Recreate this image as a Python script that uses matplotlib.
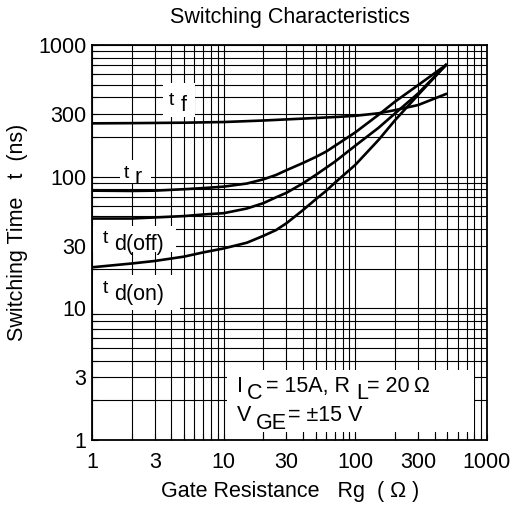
import numpy as np
import matplotlib
matplotlib.use('Agg')
from matplotlib import pyplot as plt
from matplotlib.patches import Rectangle

plt.rcParams['font.family'] = ['Liberation Sans', 'DejaVu Sans']

# gate resistance (ohm) and switching times (ns)
rg_tf = [1, 2, 5, 10, 20, 50, 76, 100, 150, 200, 300, 487]
t_f = [254, 255, 257, 260, 267, 279, 285, 290, 303, 320, 350, 424]

rg_tr = [1, 2, 3, 5, 7, 10, 15, 20, 25, 30, 40, 50, 60, 76, 100, 150, 200, 300, 487]
t_r = [78.3, 77.9, 78.3, 80.3, 81.9, 84, 88.7, 95.4, 103, 112, 127, 141, 155, 181,
       217, 295, 371, 496, 704]

rg_doff = [1, 2, 3, 5, 7, 10, 15, 20, 25, 30, 40, 50, 70, 100, 150, 200, 300, 487]
t_doff = [48.1, 48.1, 49, 50.2, 51.6, 52.8, 57.3, 62.9, 69.7, 75.4, 89, 103, 130,
          172, 235, 302, 429, 704]

rg_don = [1, 2, 3, 5, 7, 10, 15, 20, 25, 30, 40, 50, 60, 70, 100, 150, 200, 300, 487]
t_don = [20.5, 21.9, 22.9, 24.7, 26.6, 28.5, 31.5, 35.5, 39.3, 44.3, 55.7, 67.3, 78,
         90, 123, 190, 268, 418, 704]

ticks = [1, 3, 10, 30, 100, 300, 1000]
tick_labels = ['1', '3', '10', '30', '100', '300', '1000']

W, H = 516, 507
fig = plt.figure(figsize=(W / 100, H / 100), dpi=100)
ax = fig.add_axes([92 / W, 1 - 440 / H, 395 / W, 395 / H])
ax.set_xscale('log')
ax.set_yscale('log')
ax.set_xlim(1, 1000)
ax.set_ylim(1, 1000)
ax.set_axisbelow(True)

ax.grid(True, which='both', color='black', linewidth=0.8)
ax.set_xticks(ticks)
ax.set_xticklabels(tick_labels, fontsize=15.5)
ax.set_yticks(ticks)
ax.set_yticklabels(tick_labels, fontsize=15.5)
ax.tick_params(which='both', direction='in', length=4, width=0.8)
ax.tick_params(axis='x', pad=8.5)
ax.tick_params(axis='y', pad=4)
for s in ax.spines.values():
    s.set_linewidth(1.3)

for xs, ys in [(rg_tf, t_f), (rg_tr, t_r), (rg_doff, t_doff), (rg_don, t_don)]:
    ax.plot(xs, ys, color='black', linewidth=1.9, zorder=3,
            solid_joinstyle='round')


def px_box(x0, y0, x1, y1):
    # white patch (pixel coords of the figure) hiding the grid under a label
    ax.add_patch(Rectangle((x0 / W, 1 - y1 / H), (x1 - x0) / W, (y1 - y0) / H,
                           transform=fig.transFigure, facecolor='white',
                           edgecolor='none', zorder=2))


def px_text(x, y, s, size=15.5):
    fig.text(x / W, 1 - y / H, s, fontsize=size, ha='left', va='baseline', zorder=5)


# curve labels
px_box(163, 83, 195, 117)
px_text(169, 105, 't', 14)
px_text(181, 111, 'f')
px_box(120, 160, 151, 183)
px_text(124, 178, 't', 14)
px_text(134, 183, 'r')
px_box(93, 226, 176, 252)
px_text(103, 243, 't', 14)
px_text(114, 250, 'd(off)')
px_box(93, 275, 180, 310)
px_text(103, 293, 't', 14)
px_text(114, 300, 'd(on)')

# conditions box
px_box(227, 370, 474, 432)
px_text(237, 392, 'I')
px_text(247, 399, 'C')
px_text(266, 392, '= 15A, R')
px_text(356, 399, 'L')
px_text(367, 392, '= 20\u2009\u03a9')
px_text(237, 421, 'V')
px_text(256, 429, 'GE')
px_text(288, 421, '= \u00b115 V')

fig.text(290 / W, 1 - 18 / H, 'Switching Characteristics', fontsize=15.5,
         ha='center', va='center')
fig.text(290 / W, 1 - 491 / H, 'Gate Resistance   Rg  ( \u03a9 )', fontsize=15.5,
         ha='center', va='center')
fig.text(18 / W, 1 - 232 / H, 'Switching Time   t  (ns)', fontsize=15.5,
         ha='center', va='center', rotation=90)

fig.savefig('out.png', dpi=100)
